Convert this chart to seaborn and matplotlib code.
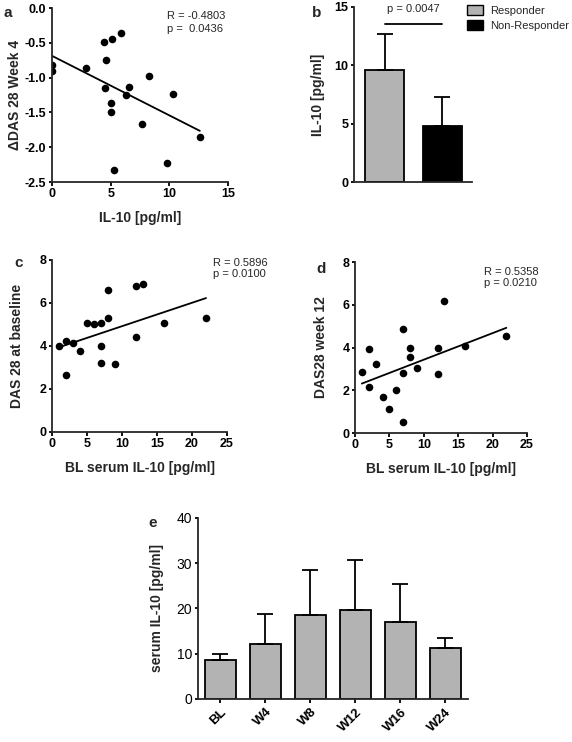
import numpy as np
import pandas as pd
import matplotlib
matplotlib.use("Agg")
import matplotlib.pyplot as plt
import seaborn as sns
from matplotlib.patches import Patch

# ---- data ----
# a: IL-10 vs delta DAS28 at week 4
a_il10 = [0.0, 0.0, 2.9, 4.4, 5.1, 5.9, 4.6, 4.5, 5.0, 5.0, 5.3, 6.3, 6.6, 8.3, 7.7, 10.3, 9.8, 12.6]
a_ddas = [-0.82, -0.90, -0.86, -0.49, -0.44, -0.36, -0.75, -1.15, -1.37, -1.49, -2.33, -1.25, -1.13, -0.97, -1.66, -1.24, -2.22, -1.86]

# b: responder vs non-responder
b_groups = ["Responder", "Non-Responder"]
b_mean = [9.6, 4.8]
b_sd = [3.1, 2.45]

# c / d: baseline serum IL-10 vs DAS28
cd_il10 = [1, 2, 2, 3, 4, 5, 6, 7, 7, 7, 8, 8, 9, 12, 12, 13, 16, 22]
c_das_bl = [4.02, 4.24, 2.66, 4.12, 3.79, 5.05, 5.03, 5.09, 4.01, 3.20, 6.61, 5.28, 3.14, 6.78, 4.40, 6.87, 5.09, 5.28]
d_das_w12 = [2.84, 2.17, 3.92, 3.23, 1.69, 1.14, 2.02, 4.86, 2.83, 0.52, 3.55, 3.98, 3.06, 2.75, 3.98, 6.17, 4.06, 4.52]

# e: serum IL-10 over time
e_visits = ["BL", "W4", "W8", "W12", "W16", "W24"]
e_mean = [8.6, 12.2, 18.6, 19.6, 17.1, 11.2]
e_sd = [1.3, 6.6, 9.9, 11.0, 8.2, 2.2]

GREY = "#b3b3b3"

sns.set_theme(style="ticks")
plt.rcParams["font.family"] = ["Liberation Sans", "DejaVu Sans"]
plt.rcParams["axes.linewidth"] = 1.3
plt.rcParams["xtick.major.width"] = 1.3
plt.rcParams["ytick.major.width"] = 1.3
plt.rcParams["xtick.major.size"] = 3
plt.rcParams["ytick.major.size"] = 2.5

fig = plt.figure(figsize=(5.72, 7.42), dpi=100)
ax_a = fig.add_axes([0.0909, 0.7547, 0.3077, 0.2345])
ax_b = fig.add_axes([0.619, 0.7547, 0.206, 0.236])
ax_c = fig.add_axes([0.0909, 0.4178, 0.306, 0.2318])
ax_d = fig.add_axes([0.6206, 0.4164, 0.3007, 0.2305])
ax_e = fig.add_axes([0.346, 0.058, 0.472, 0.244])


def scatter_panel(ax, x, y):
    sns.regplot(x=x, y=y, ax=ax, ci=None, truncate=True, color="black",
                scatter_kws=dict(s=30, linewidths=0, alpha=1),
                line_kws=dict(linewidth=1.3))
    sns.despine(ax=ax)
    ax.tick_params(labelsize=9, colors="black", pad=1.5)


def bold_ticks(ax):
    for lab in ax.get_xticklabels() + ax.get_yticklabels():
        lab.set_fontweight("bold")


# ---- a ----
scatter_panel(ax_a, a_il10, a_ddas)
ax_a.set_xlim(0, 15)
ax_a.set_ylim(-2.5, 0.0)
ax_a.set_xticks([0, 5, 10, 15])
ax_a.set_yticks([0.0, -0.5, -1.0, -1.5, -2.0, -2.5])
ax_a.set_yticklabels(["0.0", "-0.5", "-1.0", "-1.5", "-2.0", "-2.5"])
bold_ticks(ax_a)
ax_a.set_xlabel("IL-10 [pg/ml]", fontsize=10, fontweight="bold", labelpad=8)
ax_a.set_ylabel("\u0394DAS 28 Week 4", fontsize=10, fontweight="bold")
ax_a.yaxis.set_label_coords(-0.17, 0.5)
ax_a.text(0.653, 0.954, "R = -0.4803", transform=ax_a.transAxes, fontsize=8, va="center")
ax_a.text(0.653, 0.879, "p =  0.0436", transform=ax_a.transAxes, fontsize=8, va="center")

# ---- b ----
df_b = pd.DataFrame({"group": b_groups, "mean": b_mean})
sns.barplot(data=df_b, x="group", y="mean", hue="group", palette=[GREY, "black"],
            width=0.67, edgecolor="black", linewidth=1.3, legend=False, ax=ax_b)
ax_b.errorbar(range(len(b_mean)), b_mean, yerr=[np.zeros(len(b_sd)), b_sd],
              fmt="none", ecolor="black", elinewidth=1.3, capsize=6, capthick=1.3)
ax_b.plot([0, 1], [13.5, 13.5], color="black", linewidth=1.3)
ax_b.text(0.5, 14.4, "p = 0.0047", ha="center", va="bottom", fontsize=8)
ax_b.set_xlim(-0.53, 1.51)
ax_b.set_ylim(0, 15)
ax_b.set_yticks([0, 5, 10, 15])
ax_b.set_xticks([])
ax_b.set_xlabel("")
ax_b.set_ylabel("IL-10 [pg/ml]", fontsize=10, fontweight="bold")
ax_b.yaxis.set_label_coords(-0.25, 0.5)
sns.despine(ax=ax_b)
ax_b.tick_params(labelsize=9, colors="black", pad=1.5)
bold_ticks(ax_b)
handles = [Patch(facecolor=c, edgecolor="black", linewidth=1.0, label=g)
           for c, g in zip([GREY, "black"], b_groups)]
fig.legend(handles=handles, loc="upper left", bbox_to_anchor=(0.8165, 0.993),
           frameon=False, fontsize=8, handlelength=1.45, handleheight=0.95,
           handletextpad=0.6, labelspacing=0.4, borderaxespad=0, borderpad=0)

# ---- c ----
scatter_panel(ax_c, cd_il10, c_das_bl)
ax_c.set_xlim(0, 25)
ax_c.set_ylim(0, 8)
ax_c.set_xticks([0, 5, 10, 15, 20, 25])
ax_c.set_yticks([0, 2, 4, 6, 8])
bold_ticks(ax_c)
ax_c.set_xlabel("BL serum IL-10 [pg/ml]", fontsize=10, fontweight="bold", labelpad=8)
ax_c.set_ylabel("DAS 28 at baseline", fontsize=10, fontweight="bold")
ax_c.yaxis.set_label_coords(-0.16, 0.5)
ax_c.text(0.92, 0.985, "R = 0.5896", transform=ax_c.transAxes, fontsize=8, va="center")
ax_c.text(0.92, 0.921, "p = 0.0100", transform=ax_c.transAxes, fontsize=8, va="center")

# ---- d ----
scatter_panel(ax_d, cd_il10, d_das_w12)
ax_d.set_xlim(0, 25)
ax_d.set_ylim(0, 8)
ax_d.set_xticks([0, 5, 10, 15, 20, 25])
ax_d.set_yticks([0, 2, 4, 6, 8])
bold_ticks(ax_d)
ax_d.set_xlabel("BL serum IL-10 [pg/ml]", fontsize=10, fontweight="bold", labelpad=8)
ax_d.set_ylabel("DAS28 week 12", fontsize=10, fontweight="bold")
ax_d.yaxis.set_label_coords(-0.155, 0.5)
ax_d.text(0.75, 0.94, "R = 0.5358", transform=ax_d.transAxes, fontsize=8, va="center")
ax_d.text(0.75, 0.877, "p = 0.0210", transform=ax_d.transAxes, fontsize=8, va="center")

# ---- e ----
df_e = pd.DataFrame({"visit": e_visits, "mean": e_mean})
sns.barplot(data=df_e, x="visit", y="mean", color=GREY, saturation=1,
            width=0.68, edgecolor="black", linewidth=1.3, ax=ax_e)
ax_e.errorbar(range(len(e_mean)), e_mean, yerr=[np.zeros(len(e_sd)), e_sd],
              fmt="none", ecolor="black", elinewidth=1.3, capsize=6, capthick=1.3)
ax_e.set_xlim(-0.5, 5.5)
ax_e.set_ylim(0, 40)
ax_e.set_yticks([0, 10, 20, 30, 40])
ax_e.set_xlabel("")
ax_e.set_ylabel("serum IL-10 [pg/ml]", fontsize=10, fontweight="bold")
ax_e.yaxis.set_label_coords(-0.125, 0.5)
sns.despine(ax=ax_e)
ax_e.tick_params(axis="y", labelsize=10, colors="black", pad=1.5)
ax_e.tick_params(axis="x", labelsize=9.5, colors="black", pad=2)
plt.setp(ax_e.get_xticklabels(), rotation=45, ha="right", rotation_mode="anchor",
         fontweight="bold")

# panel letters
for txt, x, y in [("a", 0.006, 0.982), ("b", 0.545, 0.982), ("c", 0.026, 0.645),
                  ("d", 0.553, 0.637), ("e", 0.26, 0.295)]:
    fig.text(x, y, txt, fontsize=11, fontweight="bold", va="center")

fig.savefig("out.png", dpi=100)
plt.close(fig)
